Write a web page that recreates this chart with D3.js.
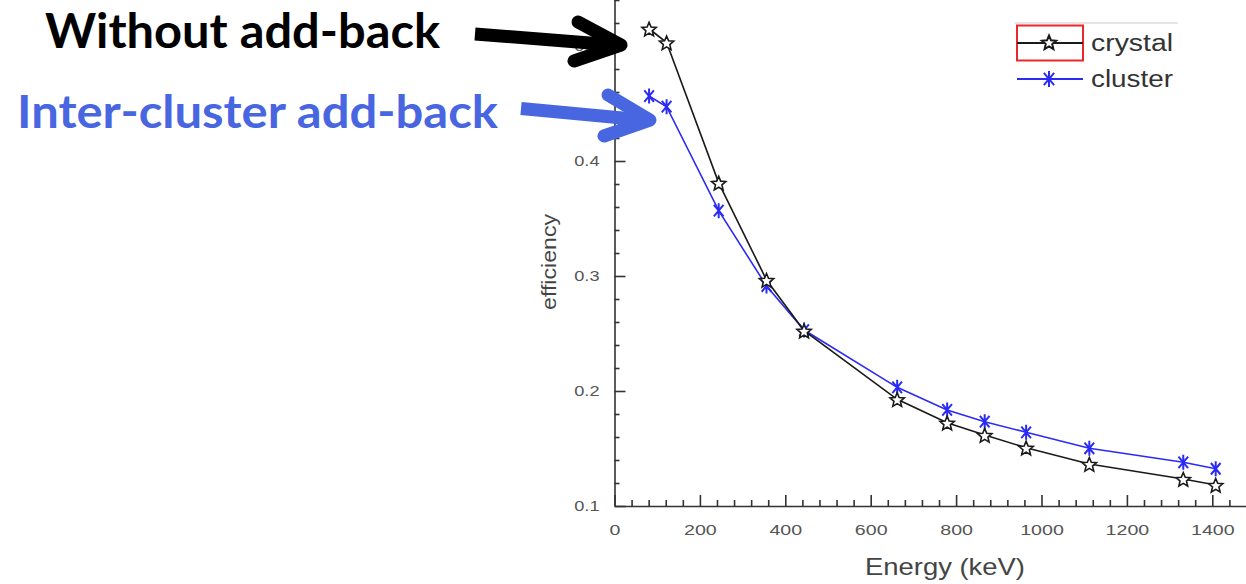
<!DOCTYPE html>
<html>
<head>
<meta charset="utf-8">
<script src="https://cdn.jsdelivr.net/npm/d3@7"></script>
<style>
  html, body { margin: 0; padding: 0; background: #fff; }
  svg { display: block; }
</style>
</head>
<body>
<svg id="chart" width="1246" height="584"></svg>
<script>
// Gamma energies (keV) and photopeak efficiencies
const energies = [81, 122, 244, 356, 444, 662, 779, 867, 964, 1112, 1332, 1408];
const crystalEff = [0.515, 0.503, 0.381, 0.2965, 0.2524, 0.1928, 0.1724, 0.1617, 0.1507, 0.1365, 0.1235, 0.1183];
const clusterEff = [0.4565, 0.4472, 0.3568, 0.2913, 0.253, 0.2032, 0.1835, 0.1733, 0.1641, 0.1502, 0.138, 0.1324];
const seriesNames = ["crystal", "cluster"];
const xTicks = [0, 200, 400, 600, 800, 1000, 1200, 1400];
const yTicks = [0.1, 0.2, 0.3, 0.4, 0.5];
const xMinorTicks = d3.range(0, 1480, 40).filter(v => v % 200 !== 0);
const yMinorTicks = d3.range(0.12, 0.55, 0.02).filter(v => Math.abs(v * 10 - Math.round(v * 10)) > 1e-6);

const svg = d3.select("#chart");
const axisColor = "#333";
const blackSeries = "#1a1a1a";
const blueSeries = "#2b2bf5";
const noteBlue = "#4866e0";

const x = d3.scaleLinear().domain([0, 1480]).range([614.5, 614.5 + 1480 * 0.427]);
const y = d3.scaleLinear().domain([0.1, 0.55]).range([506, 506 - 0.45 * 1150]);

// stretch tick labels horizontally
function widen(sel, factor) {
  sel.each(function () {
    const w = this.getComputedTextLength();
    d3.select(this).attr("textLength", w * factor).attr("lengthAdjust", "spacingAndGlyphs");
  });
}

// ---- axes ----
const xAxis = svg.append("g").attr("transform", `translate(0,${y(0.1)})`)
  .call(d3.axisBottom(x).tickValues(xTicks).tickFormat(d3.format("d"))
    .tickSize(-11).tickSizeOuter(0).tickPadding(19));
const xMinor = svg.append("g").attr("transform", `translate(0,${y(0.1)})`)
  .call(d3.axisBottom(x).tickValues(xMinorTicks).tickFormat("").tickSize(-6).tickSizeOuter(0));
xMinor.select(".domain").remove();

const yAxis = svg.append("g").attr("transform", `translate(${x(0)},0)`)
  .call(d3.axisLeft(y).tickValues(yTicks).tickFormat(d3.format(".1f"))
    .tickSize(-11).tickSizeOuter(0).tickPadding(15));
const yMinor = svg.append("g").attr("transform", `translate(${x(0)},0)`)
  .call(d3.axisLeft(y).tickValues(yMinorTicks).tickFormat("").tickSize(-5).tickSizeOuter(0));
yMinor.select(".domain").remove();

[xAxis, xMinor, yAxis, yMinor].forEach(g => {
  g.selectAll("path, line").attr("stroke", axisColor).attr("stroke-width", 1.6);
});
[xAxis, yAxis].forEach(g => {
  g.selectAll("text").attr("fill", "#555").attr("font-family", "Liberation Sans, Arial, sans-serif")
    .attr("font-size", 14);
});
widen(xAxis.selectAll("text"), 1.4);
widen(yAxis.selectAll("text"), 1.3);

// axis titles
svg.append("text").attr("x", 945).attr("y", 575).attr("text-anchor", "middle")
  .attr("font-family", "Liberation Sans, Arial, sans-serif").attr("font-size", 24).attr("fill", "#444")
  .attr("textLength", 160).attr("lengthAdjust", "spacingAndGlyphs")
  .text("Energy (keV)");
svg.append("text").attr("transform", "translate(556,262) rotate(-90)").attr("text-anchor", "middle")
  .attr("font-family", "Liberation Sans, Arial, sans-serif").attr("font-size", 21).attr("fill", "#444")
  .attr("textLength", 96).attr("lengthAdjust", "spacingAndGlyphs")
  .text("efficiency");

// ---- markers ----
function starPath(r) {
  const pts = [];
  for (let i = 0; i < 10; i++) {
    const a = -Math.PI / 2 + i * Math.PI / 5;
    const rr = i % 2 === 0 ? r : r * 0.45;
    pts.push([rr * Math.cos(a), rr * Math.sin(a)]);
  }
  return "M" + pts.map(p => p.join(",")).join("L") + "Z";
}
function asteriskPath(r) {
  const a = 50 * Math.PI / 180;
  const dx = r * Math.cos(a), dy = r * Math.sin(a);
  return `M0,${-r}L0,${r}M${-dx},${-dy}L${dx},${dy}M${dx},${-dy}L${-dx},${dy}`;
}

const crystalData = energies.map((e, i) => ({ e, v: crystalEff[i] }));
const clusterData = energies.map((e, i) => ({ e, v: clusterEff[i] }));
const line = d3.line().x(d => x(d.e)).y(d => y(d.v));

// cluster (blue asterisks)
svg.append("path").datum(clusterData).attr("d", line)
  .attr("fill", "none").attr("stroke", blueSeries).attr("stroke-width", 1.6);
svg.append("g").selectAll("path").data(clusterData).join("path")
  .attr("transform", d => `translate(${x(d.e)},${y(d.v)})`)
  .attr("d", asteriskPath(7.5)).attr("fill", "none").attr("stroke", blueSeries).attr("stroke-width", 2);

// crystal (black open stars)
svg.append("path").datum(crystalData).attr("d", line)
  .attr("fill", "none").attr("stroke", blackSeries).attr("stroke-width", 1.6);
svg.append("g").selectAll("path").data(crystalData).join("path")
  .attr("transform", d => `translate(${x(d.e)},${y(d.v) + 1})`)
  .attr("d", starPath(7.5)).attr("fill", "#fff").attr("stroke", blackSeries).attr("stroke-width", 1.6)
  .attr("stroke-linejoin", "miter");

// ---- legend ----
const legend = svg.append("g");
legend.append("line").attr("x1", 1015).attr("x2", 1178).attr("y1", 23).attr("y2", 23)
  .attr("stroke", "#ddd").attr("stroke-width", 1.5);
legend.append("rect").attr("x", 1017).attr("y", 25.5).attr("width", 66).attr("height", 35)
  .attr("fill", "none").attr("stroke", "#e8282a").attr("stroke-width", 2);
const rows = [
  { name: seriesNames[0], y: 43, color: blackSeries, mark: starPath(7.5), fill: "#fff" },
  { name: seriesNames[1], y: 79, color: blueSeries, mark: asteriskPath(8), fill: "none" }
];
rows.forEach(r => {
  legend.append("line").attr("x1", 1017).attr("x2", 1083).attr("y1", r.y).attr("y2", r.y)
    .attr("stroke", r.color).attr("stroke-width", 2);
  legend.append("path").attr("transform", `translate(1049,${r.y})`).attr("d", r.mark)
    .attr("fill", r.fill).attr("stroke", r.color).attr("stroke-width", 2);
  legend.append("text").attr("x", 1091).attr("y", r.y + 8)
    .attr("font-family", "Liberation Sans, Arial, sans-serif").attr("font-size", 23).attr("fill", "#333")
    .attr("textLength", 82).attr("lengthAdjust", "spacingAndGlyphs")
    .text(r.name);
});

// ---- annotations ----
svg.append("text").attr("x", 45).attr("y", 48)
  .attr("font-family", "Lato, 'Open Sans', sans-serif").attr("font-weight", 700).attr("font-size", 47)
  .attr("fill", "#000").attr("textLength", 395).attr("lengthAdjust", "spacingAndGlyphs")
  .text("Without add-back");
svg.append("text").attr("x", 17).attr("y", 127.5)
  .attr("font-family", "Lato, 'Open Sans', sans-serif").attr("font-weight", 700).attr("font-size", 45)
  .attr("fill", noteBlue).attr("textLength", 481).attr("lengthAdjust", "spacingAndGlyphs")
  .text("Inter-cluster add-back");

function arrow(color, x1, y1, tip, up, down) {
  const g = svg.append("g").attr("fill", "none").attr("stroke", color).attr("stroke-width", 13)
    .attr("stroke-linecap", "round").attr("stroke-linejoin", "round");
  g.append("path").attr("d", `M${x1[0]},${x1[1]}L${tip[0] - 6},${tip[1]}`).attr("stroke-linecap", "butt");
  g.append("path").attr("d", `M${up[0]},${up[1]}L${tip[0]},${tip[1]}L${down[0]},${down[1]}`);
}
arrow("#000", [475, 34], null, [621, 45], [578, 22], [574, 61]);
arrow(noteBlue, [521, 108.5], null, [650, 120], [608, 95], [604, 136]);
</script>
</body>
</html>
